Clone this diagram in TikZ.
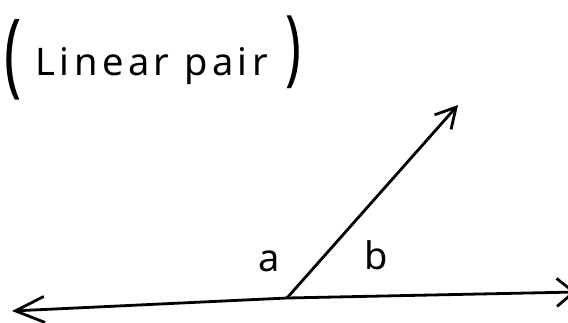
\documentclass[tikz,border=0pt]{standalone}
\usepackage{fontspec}
\setmainfont{Noto Sans}
\usetikzlibrary{arrows.meta}
\begin{document}
\begin{tikzpicture}[x=1pt,y=-1pt,
  stroke/.style={line width=2.8pt, line cap=round, line join=round},
  lbl/.style={inner sep=0pt, font=\fontsize{38}{40}\selectfont},
  paren/.style={inner sep=0pt, font=\fontsize{44}{48}\selectfont}]
\useasboundingbox[fill=white] (0,0) rectangle (568,322);
\coordinate (L) at (12,311);
\coordinate (O) at (287,298);
\coordinate (R) at (576,292);
\coordinate (T) at (458,105);
\draw[stroke, {Straight Barb[length=29pt,width=26pt]}-{Straight Barb[length=17pt,width=28pt]}] (L) -- (O) -- (R);
\draw[stroke, -{Straight Barb[length=20pt,width=22pt]}] (O) -- (T);
\node[lbl] (la) at (269,261) {a};
\node[lbl] (lb) at (376,255) {b};
\node[inner sep=0pt, anchor=base west, font=\fontsize{38}{40}\selectfont\addfontfeature{LetterSpace=12}] (title) at (35,75) {Linear pair};
\node[paren] (lp) at (13,60) {\scalebox{1.3}[2.1]{(}};
\node[paren] (rp) at (293,52) {\scalebox{1.2}[1.9]{)}};
\end{tikzpicture}
\end{document}
